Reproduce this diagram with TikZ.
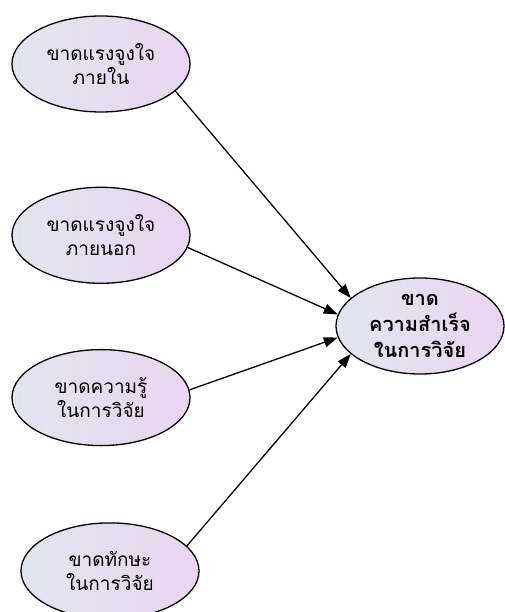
\documentclass[tikz,border=0pt]{standalone}
\usepackage{fontspec}
\newfontfamily\thai[Script=Thai]{Loma}
\usetikzlibrary{shapes.geometric,positioning,arrows.meta}
\definecolor{shadeL}{HTML}{E1E5EE}
\definecolor{shadeR}{HTML}{EAD5F0}
\tikzset{
  cause/.style={ellipse,draw,line width=1.3pt,left color=shadeL,right color=shadeR,
    minimum width=178pt,minimum height=96pt,inner sep=0pt,align=center,
    font=\thai\fontsize{19}{24}\selectfont},
  effect/.style={cause,minimum width=168pt,minimum height=96pt,
    font=\thai\bfseries\fontsize{20}{26}\selectfont},
  link/.style={-{Triangle[length=14pt,width=10pt]},line width=1.3pt}
}

\begin{document}
\begin{tikzpicture}[x=1pt,y=1pt]
  \useasboundingbox (0,0) rectangle (504,-612);
  % the effect on the right, the four causes down the left
  \node [effect] (fail) at (420,-326) {ขาด\\ความสำเร็จ\\ในการวิจัย};
  \node [cause] (inner) at (101,-64) {ขาดแรงจูงใจ\\ภายใน};
  \node [cause, below=74pt of inner] (outer) {ขาดแรงจูงใจ\\ภายนอก};
  \node [cause, below=65pt of outer] (know) {ขาดความรู้\\ในการวิจัย};
  \node [cause, below=76pt of know, xshift=9pt] (skill) {ขาดทักษะ\\ในการวิจัย};

  % arrows into the effect
  \draw [link] (inner.-20) -- (fail.158);
  \draw [link] (outer.-8) -- (fail.172);
  \draw [link] (know.5) -- (fail.188);
  \draw [link] (skill.18) -- (fail.202);
\end{tikzpicture}
\end{document}
